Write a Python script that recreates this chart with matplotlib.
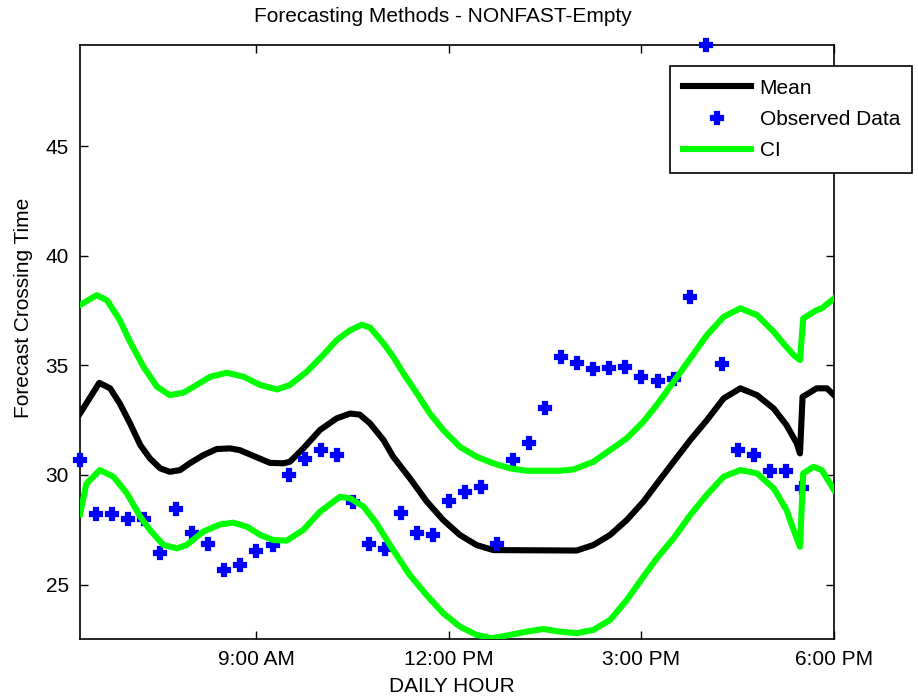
import matplotlib
matplotlib.use("Agg")
import matplotlib.pyplot as plt

plt.rcParams['font.family'] = ['Liberation Sans', 'DejaVu Sans']

# Observed crossing times, sampled every 15 minutes from 6:15 AM
obs_start_hour = 6.25
obs_step_hour = 0.25
observed = [30.7, 28.2, 28.2, 28.0, 28.0, 26.45, 28.43, 27.36, 26.83, 25.66,
            25.89, 26.54, 26.8, 30.0, 30.72, 31.12, 30.89, 28.75, 26.83, 26.6,
            28.27, 27.33, 27.26, 28.82, 29.2, 29.46, 26.83, 30.68, 31.44, 33.03,
            35.39, 35.09, 34.83, 34.86, 34.93, 34.45, 34.29, 34.36, 38.1, 49.6,
            35.05, 31.13, 30.89, 30.18, 30.18, 29.39]
obs_hours = [obs_start_hour + obs_step_hour * i for i in range(len(observed))]

# Forecast mean
mean_hours = [6.25, 6.55, 6.72, 6.87, 7.03, 7.19, 7.34, 7.50, 7.65, 7.81,
              7.96, 8.17, 8.38, 8.59, 8.74, 8.95, 9.21, 9.42, 9.52, 9.73,
              9.99, 10.25, 10.46, 10.61, 10.77, 10.98, 11.13, 11.39, 11.65, 11.91,
              12.17, 12.43, 12.69, 13.99, 14.25, 14.51, 14.77, 15.03, 15.24, 15.50,
              15.76, 16.02, 16.28, 16.54, 16.80, 17.06, 17.26, 17.42, 17.47, 17.51,
              17.73, 17.89, 18.0]
mean_values = [32.8, 34.2, 33.95, 33.26, 32.35, 31.36, 30.75, 30.3, 30.14, 30.22,
               30.53, 30.9, 31.18, 31.21, 31.13, 30.87, 30.55, 30.53, 30.6, 31.21,
               32.05, 32.58, 32.8, 32.75, 32.35, 31.59, 30.83, 29.85, 28.8, 27.94,
               27.26, 26.8, 26.57, 26.55, 26.8, 27.26, 27.94, 28.78, 29.6, 30.6,
               31.59, 32.5, 33.49, 33.95, 33.64, 33.03, 32.27, 31.44, 30.98, 33.56,
               33.95, 33.95, 33.64]

# Upper confidence bound
upper_hours = [6.25, 6.51, 6.67, 6.87, 7.03, 7.24, 7.45, 7.65, 7.86, 8.02,
               8.28, 8.54, 8.80, 9.06, 9.32, 9.52, 9.78, 10.04, 10.25, 10.46,
               10.64, 10.77, 10.98, 11.13, 11.29, 11.50, 11.70, 11.91, 12.17, 12.43,
               12.69, 12.95, 13.21, 13.73, 13.94, 14.25, 14.51, 14.77, 15.03, 15.24,
               15.50, 15.76, 16.02, 16.28, 16.54, 16.80, 17.06, 17.21, 17.37, 17.47,
               17.52, 17.73, 17.81, 18.0]
upper_values = [37.75, 38.2, 37.97, 37.06, 36.07, 34.93, 34.02, 33.64, 33.75, 34.02,
                34.48, 34.66, 34.48, 34.1, 33.9, 34.1, 34.7, 35.47, 36.15, 36.6,
                36.85, 36.72, 36.0, 35.39, 34.63, 33.72, 32.81, 32.05, 31.28, 30.83,
                30.53, 30.3, 30.19, 30.19, 30.25, 30.6, 31.13, 31.67, 32.43, 33.2,
                34.25, 35.31, 36.38, 37.21, 37.6, 37.29, 36.53, 36.0, 35.47, 35.24,
                37.14, 37.52, 37.6, 38.05]

# Lower confidence bound
lower_hours = [6.25, 6.35, 6.56, 6.77, 6.98, 7.19, 7.34, 7.55, 7.76, 7.91,
               8.17, 8.43, 8.64, 8.85, 9.06, 9.26, 9.47, 9.73, 9.99, 10.30,
               10.46, 10.67, 10.87, 11.13, 11.39, 11.65, 11.91, 12.17, 12.43, 12.67,
               12.95, 13.21, 13.47, 13.73, 13.99, 14.25, 14.51, 14.77, 15.03, 15.24,
               15.50, 15.76, 16.02, 16.28, 16.54, 16.80, 17.06, 17.26, 17.37, 17.47,
               17.52, 17.68, 17.81, 18.0]
lower_values = [28.2, 29.6, 30.22, 29.92, 29.16, 28.09, 27.49, 26.8, 26.65, 26.8,
                27.41, 27.74, 27.82, 27.64, 27.26, 27.03, 27.0, 27.49, 28.32, 29.0,
                28.93, 28.55, 27.79, 26.57, 25.43, 24.52, 23.69, 23.08, 22.7, 22.55,
                22.7, 22.85, 22.97, 22.85, 22.78, 22.93, 23.38, 24.29, 25.36, 26.2,
                27.11, 28.17, 29.1, 29.92, 30.22, 30.07, 29.39, 28.4, 27.49, 26.72,
                30.07, 30.37, 30.22, 29.31]

tick_hours = [9, 12, 15, 18]
tick_labels = ['9:00 AM', '12:00 PM', '3:00 PM', '6:00 PM']
y_ticks = [25, 30, 35, 40, 45]

FS = 15
BLUE = (0, 0, 1)
GREEN = (0, 1, 0)

fig = plt.figure(figsize=(9.18, 7.0), dpi=100)
ax = fig.add_axes([80 / 918, 1 - 639.3 / 700, (834 - 80) / 918, (639.3 - 45.3) / 700])

ax.plot(mean_hours, mean_values, color='black', lw=4.4, label='Mean', zorder=2)
ax.plot(obs_hours, observed, linestyle='none', marker='P', markersize=8,
        color=BLUE, markeredgecolor=BLUE, markeredgewidth=1.6,
        label='Observed Data', zorder=3, clip_on=False)
ax.plot(upper_hours, upper_values, color=GREEN, lw=4.4, label='CI', zorder=4)
ax.plot(lower_hours, lower_values, color=GREEN, lw=4.4, label='_nolegend_', zorder=4)

ax.set_xlim(6.25, 18.0)
ax.set_ylim(min(lower_values) - 0.05, max(observed))
ax.set_xticks(tick_hours)
ax.set_xticklabels(tick_labels)
ax.set_yticks(y_ticks)
ax.tick_params(direction='in', length=5.5, width=1.0, labelsize=FS,
               top=True, right=True, pad=8)
for s in ax.spines.values():
    s.set_linewidth(1.2)

fig.text(443 / 918, 1 - 17 / 700, 'Forecasting Methods - NONFAST-Empty',
         ha='center', va='center', fontsize=FS)
fig.text(452 / 918, 1 - 686 / 700, 'DAILY HOUR', ha='center', va='center', fontsize=FS)
fig.text(23.5 / 918, 1 - 307.5 / 700, 'Forecast Crossing Time', ha='center',
         va='center', rotation=90, fontsize=FS)

leg = ax.legend(loc='upper left', bbox_to_anchor=(670 / 918, 1 - 66 / 700),
                bbox_transform=fig.transFigure, fontsize=FS, frameon=True,
                fancybox=False, framealpha=1, edgecolor='black',
                handlelength=3.3, handletextpad=0.4, borderpad=0.6,
                labelspacing=0.6, borderaxespad=0)
leg.get_frame().set_linewidth(1.2)

fig.savefig('out.png', dpi=100)
